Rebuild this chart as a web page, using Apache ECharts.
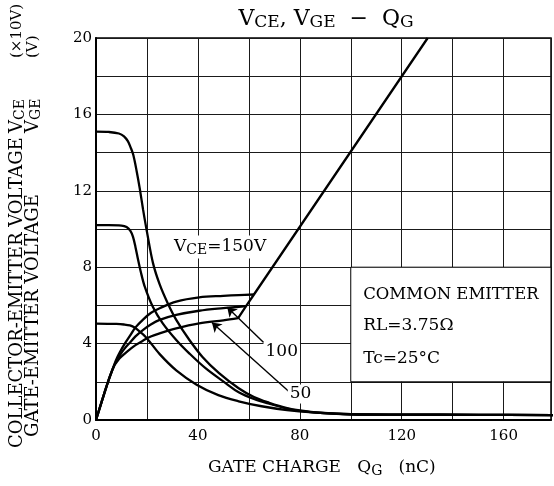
<!DOCTYPE html>
<html><head><meta charset="utf-8">
<script src="https://cdn.jsdelivr.net/npm/echarts@6/dist/echarts.min.js"></script>
<style>html,body{margin:0;padding:0;background:#fff}#c{width:554px;height:486px}</style>
</head><body><div id="c"></div>
<script>
const FONT = '"DejaVu Serif", serif';

// Tick labels
const xTickLabels = [0, 40, 80, 120, 160];
const yTickLabels = [0, 4, 8, 12, 16, 20];

// VCE (x10 V) vs gate charge QG (nC)
const qgVce150 = [0, 5, 9, 11, 12.5, 13.5, 14.6, 16, 17.2, 18.5, 20, 22.4, 25, 28.2, 31.5, 36.6, 41.8, 48.3, 56, 62, 68, 75, 80, 88, 100, 120, 150, 180];
const vce150   = [15.1, 15.08, 15.0, 14.85, 14.6, 14.3, 13.9, 13.0, 12.1, 11.0, 9.85, 8.2, 7.1, 6.1, 5.24, 4.2, 3.3, 2.45, 1.66, 1.2, 0.9, 0.62, 0.5, 0.38, 0.3, 0.28, 0.27, 0.26];

const qgVce100 = [0, 5, 10, 12, 13.5, 14.5, 15.5, 16.5, 17.5, 19.1, 22.3, 26.2, 31.5, 36.6, 43.1, 51, 56, 62, 68, 75, 80, 88, 100, 120, 150, 180];
const vce100   = [10.2, 10.2, 10.18, 10.1, 9.9, 9.6, 9.05, 8.4, 7.8, 7.0, 5.93, 5.06, 4.19, 3.49, 2.7, 1.92, 1.45, 1.1, 0.85, 0.6, 0.48, 0.37, 0.3, 0.28, 0.27, 0.26];

const qgVce50 = [0, 8, 11, 13.3, 15, 16.5, 19.5, 25, 31.5, 39.5, 48, 56, 65, 75, 85, 100, 120, 150, 180];
const vce50   = [5.05, 5.03, 5.0, 4.95, 4.85, 4.7, 4.35, 3.45, 2.6, 1.85, 1.3, 0.98, 0.72, 0.52, 0.4, 0.3, 0.28, 0.27, 0.26];

// VGE (V) vs gate charge, plateau parts
const qgVge150 = [0, 3.5, 5.5, 7.4, 8.5, 9.4, 11.3, 13.3, 15.5, 18.4, 21.5, 25, 31.5, 40.5, 50, 56, 62];
const vge150   = [0, 1.5, 2.3, 2.98, 3.32, 3.56, 4.0, 4.4, 4.85, 5.25, 5.6, 5.85, 6.2, 6.42, 6.5, 6.54, 6.57];

const qgVge100 = [0, 3.5, 5.5, 7.4, 8.5, 9.4, 11.3, 13.3, 15.5, 18.4, 21.5, 25, 31.5, 40.5, 50, 56, 58.9];
const vge100   = [0, 1.5, 2.3, 2.94, 3.2, 3.4, 3.75, 4.05, 4.38, 4.71, 5.0, 5.24, 5.5, 5.72, 5.86, 5.93, 5.96];

const qgVge50 = [0, 3.5, 5.5, 7.4, 8.5, 9.4, 11.3, 13.3, 15.5, 18.4, 21.5, 25, 31.5, 40.5, 50, 55.8];
const vge50   = [0, 1.5, 2.3, 2.9, 3.1, 3.25, 3.48, 3.7, 3.92, 4.15, 4.37, 4.54, 4.8, 5.06, 5.22, 5.33];

// Common rising VGE line after the plateaus
const qgVgeRise = [55.8, 58.9, 62, 130.2];
const vgeRise   = [5.33, 5.96, 6.57, 20];

function zip(a, b) { return a.map((v, i) => [v, b[i]]); }

const chart = echarts.init(document.getElementById('c'), null, {renderer: 'canvas'});

const lineBase = {
  type: 'line', showSymbol: false, symbol: 'none', silent: true,
  lineStyle: {color: '#000', width: 2.3}, animation: false, z: 3
};
const richSub = {
  a: {fontFamily: FONT, fontSize: 17, color: '#000'},
  s: {fontFamily: FONT, fontSize: 14, color: '#000', padding: [7, 0, 0, 0]}
};
function textLabel(txt, size, align) {
  return {
    show: true, position: 'inside', formatter: txt, align: align || 'center', verticalAlign: 'middle',
    fontFamily: FONT, fontSize: size || 17, color: '#000', backgroundColor: '#fff', padding: [1, 2],
    rich: richSub
  };
}

const option = {
  animation: false,
  backgroundColor: '#fff',
  grid: {left: 96, top: 38, right: 0, height: 382, show: true, borderColor: '#000', borderWidth: 1.5},
  xAxis: {
    type: 'value', min: 0, max: 178.6, interval: 20,
    axisLine: {show: true, onZero: false, lineStyle: {color: '#000', width: 2}},
    axisTick: {show: false},
    splitLine: {show: true, lineStyle: {color: '#1a1a1a', width: 1}},
    axisLabel: {formatter: v => xTickLabels.includes(v) ? String(v) : '', fontFamily: FONT, fontSize: 15, color: '#000', margin: 9}
  },
  yAxis: {
    type: 'value', min: 0, max: 20, interval: 2,
    axisLine: {show: true, onZero: false, lineStyle: {color: '#000', width: 2}},
    axisTick: {show: false},
    splitLine: {show: true, lineStyle: {color: '#1a1a1a', width: 1}},
    axisLabel: {formatter: v => yTickLabels.includes(v) ? String(v) : '', fontFamily: FONT, fontSize: 15, color: '#000', margin: 4}
  },
  series: [
    Object.assign({}, lineBase, {name: 'VCE150', data: zip(qgVce150, vce150), smooth: 0.35}),
    Object.assign({}, lineBase, {name: 'VCE100', data: zip(qgVce100, vce100), smooth: 0.35}),
    Object.assign({}, lineBase, {name: 'VCE50', data: zip(qgVce50, vce50), smooth: 0.35}),
    Object.assign({}, lineBase, {name: 'VGE150', data: zip(qgVge150, vge150), smooth: 0.35}),
    Object.assign({}, lineBase, {name: 'VGE100', data: zip(qgVge100, vge100), smooth: 0.35}),
    Object.assign({}, lineBase, {name: 'VGE50', data: zip(qgVge50, vge50), smooth: 0.35}),
    Object.assign({}, lineBase, {
      name: 'VGErise', data: zip(qgVgeRise, vgeRise), smooth: false,
      markArea: {
        silent: true, z: 1,
        itemStyle: {color: '#fff', borderColor: '#000', borderWidth: 1},
        data: [[{coord: [100, 2]}, {coord: [178.6, 8]}]]
      },
      markLine: {
        silent: true, symbol: ['none', 'arrow'], symbolSize: 9, animation: false,
        lineStyle: {color: '#000', width: 1.4, type: 'solid'},
        label: {show: false},
        data: [
          [{coord: [65.9, 4.05]}, {coord: [51.5, 5.9]}],
          [{coord: [75.6, 1.5]}, {coord: [45.5, 5.1]}]
        ]
      },
      markPoint: {
        silent: true, symbol: 'circle', symbolSize: 0, animation: false,
        itemStyle: {color: 'transparent'},
        data: [
          {coord: [48.7, 9.06], label: textLabel('{a|V}{s|CE}{a|=150V}', 17)},
          {coord: [72.9, 3.58], label: textLabel('100', 17)},
          {coord: [80.3, 1.36], label: textLabel('50', 17)},
          {coord: [104.1, 6.54], label: textLabel('COMMON EMITTER', 16.5, 'left')},
          {coord: [104.1, 4.92], label: textLabel('RL=3.75Ω', 17, 'left')},
          {coord: [104.1, 3.19], label: textLabel('Tc=25°C', 17, 'left')}
        ]
      }
    })
  ],
  graphic: [
    {type: 'text', x: 326, y: 19, style: {
      text: '{a|V}{s|CE}{a|, V}{s|GE}{a|  −  Q}{s|G}', align: 'center', verticalAlign: 'middle',
      rich: {a: {fontFamily: FONT, fontSize: 22, fill: '#000'}, s: {fontFamily: FONT, fontSize: 17, fill: '#000', padding: [8, 0, 0, 0]}}
    }},
    {type: 'text', x: 208, y: 468, style: {
      text: '{a|GATE CHARGE   Q}{s|G}{a|   (nC)}', align: 'left', verticalAlign: 'middle',
      rich: {a: {fontFamily: FONT, fontSize: 17, fill: '#000'}, s: {fontFamily: FONT, fontSize: 14, fill: '#000', padding: [7, 0, 0, 0]}}
    }},
    {type: 'text', x: 17, y: 448, rotation: Math.PI / 2, style: {
      text: 'COLLECTOR-EMITTER VOLTAGE', font: '18px ' + FONT, fill: '#000', align: 'left', verticalAlign: 'middle'
    }},
    {type: 'text', x: 17, y: 133, rotation: Math.PI / 2, style: {
      text: '{a|V}{s|CE}', align: 'left', verticalAlign: 'middle',
      rich: {a: {fontFamily: FONT, fontSize: 18, fill: '#000'}, s: {fontFamily: FONT, fontSize: 14, fill: '#000', padding: [7, 0, 0, 0]}}
    }},
    {type: 'text', x: 17, y: 58, rotation: Math.PI / 2, style: {
      text: '(×10V)', font: '15px ' + FONT, fill: '#000', align: 'left', verticalAlign: 'middle'
    }},
    {type: 'text', x: 33, y: 437, rotation: Math.PI / 2, style: {
      text: 'GATE-EMITTER VOLTAGE', font: '18px ' + FONT, fill: '#000', align: 'left', verticalAlign: 'middle'
    }},
    {type: 'text', x: 33, y: 133, rotation: Math.PI / 2, style: {
      text: '{a|V}{s|GE}', align: 'left', verticalAlign: 'middle',
      rich: {a: {fontFamily: FONT, fontSize: 18, fill: '#000'}, s: {fontFamily: FONT, fontSize: 14, fill: '#000', padding: [7, 0, 0, 0]}}
    }},
    {type: 'text', x: 33, y: 58, rotation: Math.PI / 2, style: {
      text: '(V)', font: '15px ' + FONT, fill: '#000', align: 'left', verticalAlign: 'middle'
    }}
  ]
};
chart.setOption(option);
</script>
</body></html>
